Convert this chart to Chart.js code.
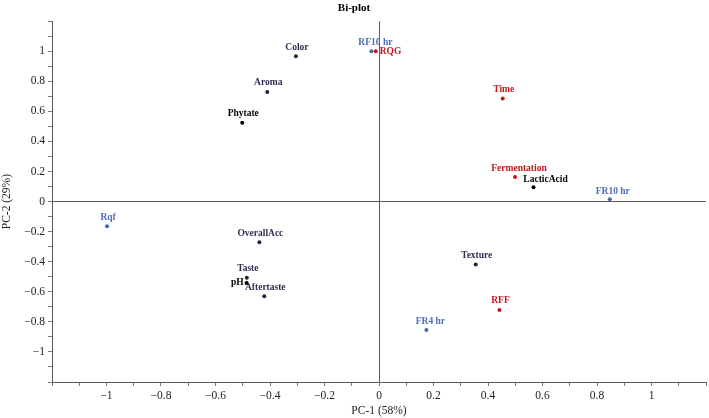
<!DOCTYPE html>
<html>
<head>
<meta charset="utf-8">
<script src="https://cdn.jsdelivr.net/npm/chart.js@4/dist/chart.umd.min.js"></script>
<style>
  html, body { margin: 0; padding: 0; background: #fff; }
  #wrap { width: 709px; height: 418px; }
</style>
</head>
<body>
<div id="wrap"><canvas id="biplot"></canvas></div>
<script>
// sensory variables (dark navy)
const sensoryNames = ['Color', 'Aroma', 'OverallAcc', 'Taste', 'Aftertaste', 'Texture'];
const sensoryX = [-0.305, -0.41, -0.439, -0.485, -0.421, 0.355];
const sensoryY = [0.967, 0.729, -0.271, -0.506, -0.630, -0.419];

// chemical variables (black)
const chemNames = ['Phytate', 'pH', 'LacticAcid'];
const chemX = [-0.502, -0.486, 0.567];
const chemY = [0.525, -0.541, 0.095];

// samples (blue)
const sampleNames = ['RF10 hr', 'FR10 hr', 'Rqf', 'FR4 hr'];
const sampleX = [-0.028, 0.847, -0.998, 0.174];
const sampleY = [1.0, 0.015, -0.164, -0.854];

// factors (red)
const factorNames = ['RQG', 'Time', 'Fermentation', 'RFF'];
const factorX = [-0.012, 0.454, 0.499, 0.442];
const factorY = [1.0, 0.685, 0.164, -0.721];

const xTitle = 'PC-1 (58%)';
const yTitle = 'PC-2 (29%)';

const serif = "'Liberation Serif', 'Times New Roman', serif";

function pts(xs, ys) {
    return xs.map((x, i) => ({ x: x, y: ys[i] }));
}

// where the label sits relative to its dot (default: centred above)
const labelPlace = {
    'RQG': { align: 'left', dx: 4, dy: 0 },
    'pH': { align: 'right', dx: -3, dy: 0 },
    'LacticAcid': { align: 'center', dx: 12, dy: -8 },
    'RF10 hr': { align: 'center', dx: 4, dy: -9 },
    'FR10 hr': { align: 'center', dx: 3, dy: -8 },
    'Fermentation': { align: 'center', dx: 4, dy: -8 },
    'FR4 hr': { align: 'center', dx: 4, dy: -8 }
};

const pointLabels = {
    id: 'pointLabels',
    afterDatasetsDraw(chart) {
        const ctx = chart.ctx;
        ctx.save();
        ctx.font = 'bold 9.5px ' + serif;
        ctx.textBaseline = 'middle';
        chart.data.datasets.forEach((ds, di) => {
            const meta = chart.getDatasetMeta(di);
            meta.data.forEach((el, i) => {
                const name = ds.names[i];
                const p = labelPlace[name] || { align: 'center', dx: 1, dy: -9 };
                ctx.fillStyle = ds.labelColor;
                ctx.textAlign = p.align;
                ctx.fillText(name, el.x + p.dx, el.y + p.dy);
            });
        });
        ctx.restore();
    }
};

function tickText(v) {
    const k = Math.round(v * 10);
    if (k % 2 !== 0 || Math.abs(k) === 12) return '';
    const s = String(Math.abs(k) / 10);
    return k < 0 ? '\u2212' + s : s;
}

function zeroLine(c) {
    return c.tick && Math.round(c.tick.value * 10) === 0 ? '#5a5a5a' : 'rgba(0,0,0,0)';
}

function axis(title, extra) {
    return Object.assign({
        type: 'linear',
        min: -1.2,
        max: 1.2,
        border: { display: true, color: '#5a5a5a', width: 1 },
        grid: {
            drawOnChartArea: true,
            drawTicks: true,
            tickLength: 4,
            color: zeroLine,
            tickColor: '#7a7a7a',
            lineWidth: 1
        },
        ticks: {
            stepSize: 0.1,
            autoSkip: false,
            maxRotation: 0,
            padding: 3,
            color: '#222',
            font: { family: serif, size: 11.5 },
            callback: tickText
        },
        title: {
            display: true,
            text: title,
            color: '#222',
            font: { family: serif, size: 11.5 },
            padding: 0
        }
    }, extra);
}

new Chart(document.getElementById('biplot'), {
    type: 'scatter',
    data: {
        datasets: [
            { label: 'Sensory', names: sensoryNames, data: pts(sensoryX, sensoryY),
              backgroundColor: '#23233f', borderColor: '#23233f', labelColor: '#2f2f52' },
            { label: 'Chemical', names: chemNames, data: pts(chemX, chemY),
              backgroundColor: '#000', borderColor: '#000', labelColor: '#000' },
            { label: 'Samples', names: sampleNames, data: pts(sampleX, sampleY),
              backgroundColor: '#4a66b0', borderColor: '#4a66b0', labelColor: '#4f6cb6' },
            { label: 'Factors', names: factorNames, data: pts(factorX, factorY),
              backgroundColor: '#c4161c', borderColor: '#c4161c', labelColor: '#c4161c' }
        ]
    },
    options: {
        responsive: true,
        maintainAspectRatio: false,
        animation: false,
        layout: { padding: { top: 0, right: 1, bottom: 0, left: 0 } },
        elements: { point: { radius: 2, borderWidth: 0, hoverRadius: 2 } },
        plugins: {
            legend: { display: false },
            tooltip: { enabled: false },
            title: {
                display: true,
                text: 'Bi-plot',
                color: '#000',
                font: { family: serif, size: 11, weight: 'bold' },
                padding: { top: 2, bottom: 6 }
            }
        },
        scales: {
            x: axis(xTitle, { afterFit(s) { s.height = 36; } }),
            y: axis(yTitle, { afterFit(s) { s.width = 52; } })
        }
    },
    plugins: [pointLabels]
});
</script>
</body>
</html>
